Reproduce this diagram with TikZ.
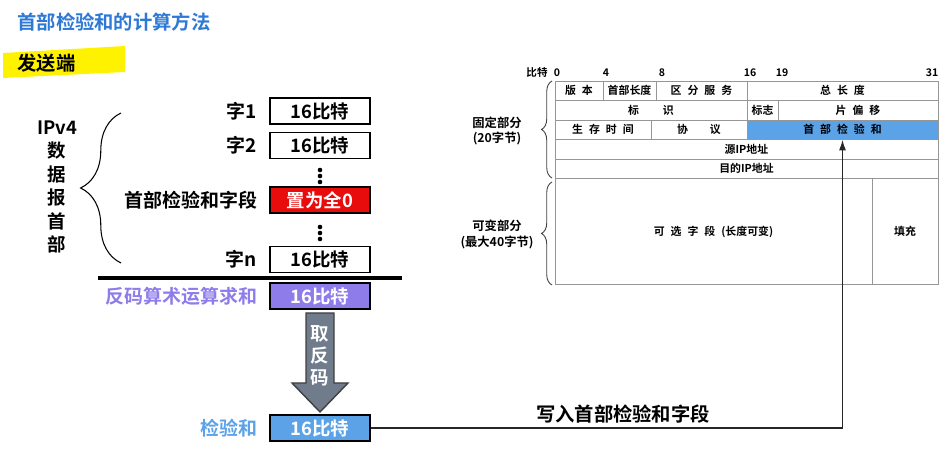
\documentclass[tikz,border=0pt]{standalone}
\usepackage{fontspec}
\setmainfont{Noto Sans CJK SC}[BoldFont={Noto Sans CJK SC Bold}]
\usepackage{tikz}
\usetikzlibrary{arrows.meta,positioning,calc,decorations.pathreplacing}
\definecolor{TitleBlue}{RGB}{46,120,214}
\definecolor{SumPurple}{RGB}{142,124,234}
\definecolor{CheckBlue}{RGB}{92,162,230}
\definecolor{ZeroRed}{RGB}{232,12,12}
\definecolor{ArrowGray}{RGB}{112,124,140}
\definecolor{GridGray}{RGB}{150,150,150}
\newcommand{\cellgap}{\hspace{0.55em}}

\begin{document}
\begin{tikzpicture}[x=0.02cm, y=-0.02cm, >=Latex,
    bitbox/.style={draw, line width=0.7pt, minimum width=2cm, minimum height=0.52cm, inner sep=0pt, font=\bfseries\fontsize{10.5}{12}\selectfont},
    wordlab/.style={inner sep=0pt, font=\bfseries\fontsize{10.8}{12}\selectfont},
    hcell/.style={draw=GridGray, line width=0.5pt, inner sep=0pt, minimum height=0.39cm, font=\bfseries\fontsize{6.2}{7}\selectfont},
    bitnum/.style={inner sep=0pt, font=\bfseries\fontsize{6}{7}\selectfont},
    partlab/.style={align=center, inner sep=0pt, font=\bfseries\fontsize{7}{9}\selectfont},
    tbrace/.style={decorate, decoration={brace, amplitude=6pt}, black!75, line width=0.5pt}]
  \useasboundingbox (0,0) rectangle (951,455);

  % title and sender
  \node[anchor=west, inner sep=0pt, TitleBlue, font=\bfseries\fontsize{11}{13}\selectfont] (title) at (17,22) {首部检验和的计算方法};
  \fill[yellow] (3,53) -- (125,46) -- (125,72) -- (3,78) -- cycle;
  \node[anchor=west, inner sep=0pt, font=\bfseries\fontsize{11}{13}\selectfont] (sender) at (17,63) {发送端};

  % header words
  \node[bitbox] (w1) at (320,111) {16比特};
  \node[bitbox] (w2) at (320,145.5) {16比特};
  \node[bitbox, fill=ZeroRed, text=white] (wzero) at (320,200) {置为全0};
  \node[bitbox] (wn) at (320,259.5) {16比特};
  \coordinate (d1) at (320,176);
  \coordinate (d2) at (320,233);
  \foreach \dy in {-6,0,6} {
    \fill ($(d1)+(0,\dy)$) circle (1.3pt);
    \fill ($(d2)+(0,\dy)$) circle (1.3pt);
  }
  \node[wordlab, left=0.24cm of w1] (l1) {字1};
  \node[wordlab, left=0.24cm of w2] (l2) {字2};
  \node[wordlab, left=0.24cm of wzero] (lzero) {首部检验和字段};
  \node[wordlab, left=0.24cm of wn] (ln) {字n};
  \draw[decorate, decoration={brace, amplitude=23pt}, line width=0.6pt] (121,263) -- (121,113);
  \node[align=center, inner sep=0pt, font=\bfseries\fontsize{10.5}{13.4}\selectfont] (ipv4) at (57,187) {IPv4\\数\\据\\报\\首\\部};
  \draw[line width=1.8pt] (98,278) -- (402,278);

  % sum, complement, checksum
  \node[bitbox, fill=SumPurple, text=white] (sum) at (320,296) {16比特};
  \node[wordlab, SumPurple, left=0.24cm of sum] (lsum) {反码算术运算求和};
  \draw[fill=ArrowGray, draw=black!75, line width=0.8pt] (306,313) -- (334,313) -- (334,383) -- (348,383) -- (320,412) -- (292,383) -- (306,383) -- cycle;
  \node[align=center, inner sep=0pt, text=white, font=\bfseries\fontsize{10.5}{12.5}\selectfont] (neg) at (320,356) {取\\反\\码};
  \node[bitbox, fill=CheckBlue, text=white] (cks) at (320,428) {16比特};
  \node[wordlab, CheckBlue, left=0.24cm of cks] (lcks) {检验和};

  % IPv4 header format
  \node[bitnum] (bt) at (537,73) {比特};
  \node[bitnum] (b0) at (557,73) {0};
  \node[bitnum] (b4) at (606,73) {4};
  \node[bitnum] (b8) at (662,73) {8};
  \node[bitnum] (b16) at (750,73) {16};
  \node[bitnum] (b19) at (782,73) {19};
  \node[bitnum] (b31) at (932,73) {31};
  \node[hcell, minimum width=0.96cm] (ver) at (579,90.75) {版\cellgap 本};
  \node[hcell, minimum width=1.06cm] (ihl) at (629.5,90.75) {首部长度};
  \node[hcell, minimum width=1.82cm] (tos) at (701.5,90.75) {区\cellgap 分\cellgap 服\cellgap 务};
  \node[hcell, minimum width=3.82cm] (tlen) at (842.5,90.75) {总\cellgap 长\cellgap 度};
  \node[hcell, minimum width=3.84cm] (ident) at (651,110.25) {标\hspace{2.2em}识};
  \node[hcell, minimum width=0.62cm] (flags) at (762.5,110.25) {标志};
  \node[hcell, minimum width=3.2cm] (frag) at (858,110.25) {片\cellgap 偏\cellgap 移};
  \node[hcell, minimum width=1.92cm] (ttl) at (603,129.75) {生\cellgap 存\cellgap 时\cellgap 间};
  \node[hcell, minimum width=1.92cm] (proto) at (699,129.75) {协\hspace{2em}议};
  \node[hcell, fill=CheckBlue, minimum width=3.82cm] (ckfield) at (842.5,129.75) {首\cellgap 部\cellgap 检\cellgap 验\cellgap 和};
  \node[hcell, minimum width=7.66cm] (src) at (746.5,149.25) {源IP地址};
  \node[hcell, minimum width=7.66cm] (dst) at (746.5,168.75) {目的IP地址};
  \node[hcell, minimum width=6.34cm, minimum height=2.12cm] (opt) at (713.5,231.5) {可\cellgap 选\cellgap 字\cellgap 段\cellgap (长度可变)};
  \node[hcell, minimum width=1.32cm, minimum height=2.12cm] (pad) at (905,231.5) {填充};
  \draw[tbrace] (552,178) -- (552,81);
  \draw[tbrace] (552,285) -- (552,182);
  \node[partlab] (fixed) at (497,131) {固定部分\\(20字节)};
  \node[partlab] (var) at (497,234.5) {可变部分\\(最大40字节)};

  % write back
  \draw[-{Latex[length=6pt, width=4pt]}, line width=0.6pt, black!85] (cks.east) -| (ckfield.south);
  \node[inner sep=0pt, font=\bfseries\fontsize{11}{13}\selectfont] (wback) at (623,414) {写入首部检验和字段};
\end{tikzpicture}
\end{document}
